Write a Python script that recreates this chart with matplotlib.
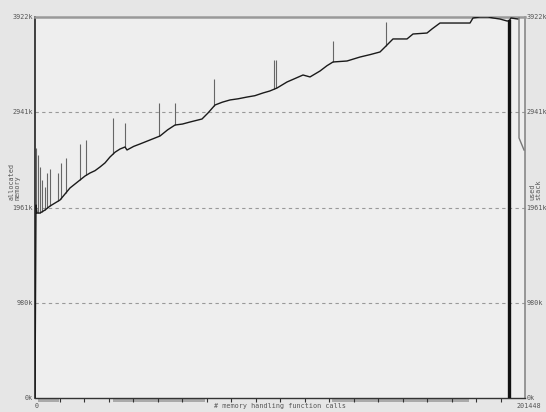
import matplotlib
matplotlib.use("Agg")
import matplotlib.pyplot as plt
import matplotlib.transforms as mtransforms
from matplotlib.patches import Rectangle
import numpy as np

# ---- data ----
total_calls = 201448
max_kb = 3922
grid_kb = [980, 1961, 2941]
ytick_labels = ["0k", "980k", "1961k", "2941k", "3922k"]
ytick_vals = [0, 980, 1961, 2941, 3922]

heap_calls = [0, 411, 822, 2056, 4111, 6167, 8222, 10278, 12334, 14389, 16445, 18500,
              20556, 22612, 24667, 26723, 28778, 30834, 32890, 34945, 37001, 37823,
              40556, 43168, 47279, 51390, 54500, 57557, 60600, 63724, 68657, 71124,
              74002, 77000, 80168, 83500, 87157, 90400, 93735, 96500, 99491, 103602,
              107000, 110180, 113058, 117169, 120000, 122514, 128269, 133614, 137800,
              141836, 143892, 147181, 152937, 155404, 161159, 163215, 166504, 178838,
              180071, 182949, 186238, 188293, 191171, 194049, 194872, 195694, 198572]
heap_kb = [0, 1987, 1904, 1904, 1935, 1976, 2007, 2038, 2100, 2162, 2203, 2244,
           2285, 2316, 2340, 2378, 2420, 2481, 2530, 2563, 2584, 2553,
           2590, 2615, 2656, 2697, 2760, 2810, 2820, 2841, 2872, 2934,
           3016, 3045, 3068, 3080, 3098, 3112, 3140, 3160, 3191, 3253,
           3290, 3325, 3305, 3366, 3420, 3459, 3469, 3510, 3535,
           3562, 3613, 3696, 3696, 3747, 3757, 3799, 3860, 3860,
           3912, 3922, 3922, 3912, 3901, 3881, 3881, 3912, 3901]

spike_calls = [411, 1233, 2056, 2878, 3988, 4933, 6167, 9456, 10689, 12745, 18500,
               20967, 32067, 37001, 50979, 57557, 73591, 98257, 99080, 122514, 144303]
spike_kb = [2574, 2501, 2378, 2244, 2172, 2316, 2357, 2316, 2419, 2471, 2615,
            2656, 2882, 2831, 3037, 3037, 3284, 3480, 3480, 3675, 3871]

marker_call = 194872
marker_kb = 3881

stack_calls = [198983, 198983, 201037]
stack_kb = [3912, 2677, 2553]

band_starts = [1233, 32067, 122103]
band_ends = [9867, 69890, 178426]

# ---- figure ----
fig = plt.figure(figsize=(5.46, 4.12), dpi=100, facecolor="#e6e6e6")
ax = fig.add_axes([35/546, 14/412, 490/546, 381/412])
ax.set_facecolor("#eeeeee")
ax.set_xlim(0, total_calls)
ax.set_ylim(0, max_kb)

mono = "DejaVu Sans Mono"
fs = 4.9
tc = "#555555"

# grid
for g in grid_kb:
    ax.plot([0, total_calls * 1.004], [g, g], ls=(0, (3, 3)), color="#999999",
            lw=0.8, clip_on=False, zorder=1)

# spikes
base_at = np.interp(spike_calls, heap_calls, heap_kb)
ax.vlines(spike_calls, base_at, spike_kb, color="#666666", lw=0.8, zorder=2)

# heap line
ax.plot(heap_calls, heap_kb, color="#1a1a1a", lw=1.0, zorder=3)

# thick marker
ax.plot([marker_call, marker_call], [0, marker_kb], color="#111111", lw=2.4, zorder=4)

# stack
ax.plot(stack_calls, stack_kb, color="#777777", lw=1.0, zorder=3)

# spines
ax.spines["top"].set_color("#999999")
ax.spines["top"].set_linewidth(1.8)
ax.spines["right"].set_color("#888888")
ax.spines["right"].set_linewidth(1.2)
ax.spines["left"].set_color("#222222")
ax.spines["left"].set_linewidth(1.2)
ax.spines["bottom"].set_color("#333333")
ax.spines["bottom"].set_linewidth(1.0)

ax.set_yticks([])
xt = [total_calls * i / 20 for i in range(1, 20)]
ax.set_xticks(xt)
ax.set_xticklabels([])
ax.tick_params(axis="x", direction="out", length=3, width=0.8, color="#333333")

# bands under the axis
trans = mtransforms.blended_transform_factory(ax.transData, ax.transAxes)
for s, e in zip(band_starts, band_ends):
    ax.add_patch(Rectangle((s, -0.011), e - s, 0.011, transform=trans,
                           facecolor="#aaaaaa", edgecolor="none", clip_on=False, zorder=0))

# y labels both sides
ytrans = mtransforms.blended_transform_factory(ax.transAxes, ax.transData)
for v, lab in zip(ytick_vals, ytick_labels):
    ax.text(-0.004, v, lab, transform=ytrans,
            ha="right", va="center", fontsize=fs, family=mono, color=tc)
    ax.text(1.003, v, lab, transform=ytrans,
            ha="left", va="center", fontsize=fs, family=mono, color=tc)

ax.text(0, -0.012, "0", transform=trans, ha="left", va="top", fontsize=fs, family=mono, color=tc)
ax.text(total_calls * 1.008, -0.012, "201448", transform=trans, ha="center", va="top",
        fontsize=fs, family=mono, color=tc)
ax.text(0.5, -0.012, "# memory handling function calls", transform=ax.transAxes,
        ha="center", va="top", fontsize=fs, family=mono, color=tc)

fig.text(15/546, 1 - 200/412, "allocated\nmemory", rotation=90, ha="center", va="bottom",
         multialignment="left", fontsize=fs, family=mono, color=tc, linespacing=1.0)
fig.text(535/546, 1 - 200/412, "used\nstack", rotation=90, ha="center", va="bottom",
         multialignment="left", fontsize=fs, family=mono, color=tc, linespacing=1.0)

fig.savefig("out.png", dpi=100, facecolor=fig.get_facecolor())
